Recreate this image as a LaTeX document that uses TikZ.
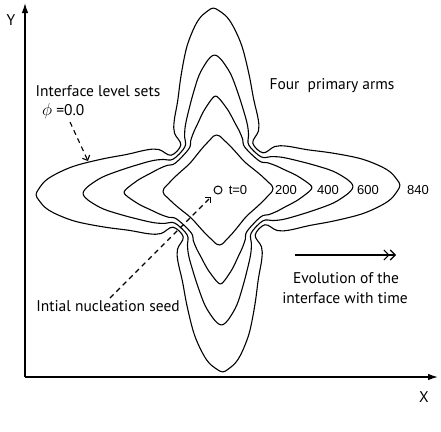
\documentclass[tikz,border=0pt]{standalone}
\usepackage{fontspec}
\setmainfont{PT Sans}
\newfontfamily\numfont{Liberation Sans}
\usetikzlibrary{arrows.meta}
\tikzset{
  lvl/.style={line width=1.1pt, line join=round},
  lbl/.style={inner sep=0pt, font=\fontsize{15.5}{18}\selectfont},
  num/.style={inner sep=0pt, font=\numfont\fontsize{13}{15}\selectfont},
  axisline/.style={line width=1.3pt, -{Latex[length=10pt,width=6.5pt]}},
  ptr/.style={line width=1.1pt, dash pattern=on 5pt off 4pt, -{Straight Barb[length=4pt,width=8pt]}},
  timearrow/.style={line width=1.1pt, -{Straight Barb[length=5pt,width=10pt] Straight Barb[length=5pt,width=10pt]}},
}
\newcommand\mkcontour[1]{%
  \gdef\ctrpts{}%
  \foreach \ang in {0,90,180,270}{%
    \foreach \uu/\vv in {#1}{%
      \pgfmathsetmacro\cpx{\uu*cos(\ang)-(\vv)*sin(\ang)}%
      \pgfmathsetmacro\cpy{\uu*sin(\ang)+(\vv)*cos(\ang)}%
      \xdef\ctrpts{\ctrpts(\cpx,\cpy)}%
    }%
  }%
  \edef\ctrdraw{\noexpand\draw[lvl] plot[smooth cycle,tension=0.6] coordinates {\ctrpts};}%
  \ctrdraw
}
\begin{document}
\begin{tikzpicture}[x=1pt,y=1pt]
\useasboundingbox (0,0) rectangle (441,-431);
\fill[white] (0,0) rectangle (441,-431);

% axes
\coordinate (O) at (25,-377);
\coordinate (Ytip) at (25,-3);
\coordinate (Xtip) at (438,-377);
\draw[axisline] (O) -- (Ytip);
\draw[axisline] (O) -- (Xtip);
\node[lbl] (ylbl) at (11,-20) {Y};
\node[lbl] (xlbl) at (424,-397) {X};

% level sets
\begin{scope}[shift={(218,-190)}, rotate=1.5]
\mkcontour{46/-36,58/-42,70/-42,90/-38,115/-34,142/-28,160/-21,172/-14,179/-6,182/0,179/6,172/14,160/21,142/28,115/34,90/38,70/42,58/42,46/36}
\mkcontour{44/-32,54/-32,65/-31,81/-27,98/-22,115/-16,127/-9,133/-4,135/0,133/4,127/9,115/16,98/22,81/27,65/31,54/32,44/32}
\mkcontour{42/-28,50/-26,58/-23,68/-18,78/-13,87/-7,92/-3,94/0,92/3,87/7,78/13,68/18,58/23,50/26,42/28}
\mkcontour{30/-25,36/-20,44/-13,50/-7,54/-3,55/0,54/3,50/7,44/13,36/20,30/25}
\end{scope}

% seed and time labels
\node[draw, circle, minimum size=8pt, inner sep=0pt, line width=1pt] (seed) at (218,-190) {};
\node[num] (t0) at (238,-190) {t=0};
\node[num] (n200) at (286,-190) {200};
\node[num] (n400) at (328,-190) {400};
\node[num] (n600) at (368,-190) {600};
\node[num] (n840) at (418,-190) {840};

% text labels
\node[lbl] (lvlsets) at (98,-91) {Interface level sets};
\node[lbl, anchor=west] (phi) at (42,-111) {{\fontsize{19}{20}\selectfont$\phi$} =0.0};
\node[lbl] (arms) at (332,-86) {Four~ primary arms};
\node[lbl] (seedlbl) at (108,-306) {Intial nucleation seed};
\node[lbl] (evo1) at (346,-278) {Evolution of the};
\node[lbl] (evo2) at (345,-298) {interface with time};

% pointers
\coordinate (lvltail) at (70,-122);
\coordinate (lvlhead) at (88,-161);
\draw[ptr] (lvltail) -- (lvlhead);
\coordinate (seedtail) at (110,-298);
\draw[ptr, shorten >=5pt] (seedtail) -- (seed);
\coordinate (tA) at (295,-255);
\coordinate (tB) at (396,-255);
\draw[timearrow] (tA) -- (tB);
\end{tikzpicture}
\end{document}
